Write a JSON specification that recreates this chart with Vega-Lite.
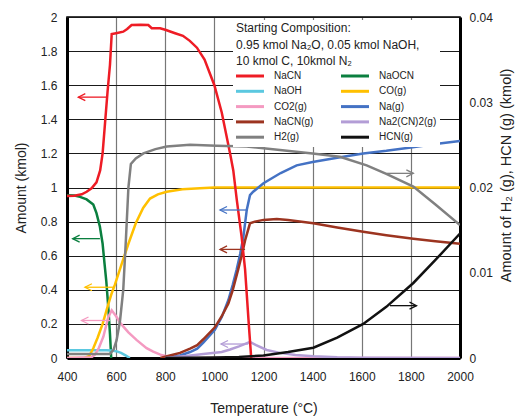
{
  "$schema": "https://vega.github.io/schema/vega-lite/v6.json",
  "width": 393,
  "height": 341,
  "autosize": "none",
  "padding": {"left": 67, "top": 17, "right": 61, "bottom": 59},
  "background": "white",
  "config": {
    "font": "Liberation Sans",
    "view": {"stroke": "black", "strokeWidth": 1.5},
    "axis": {"labelFontSize": 12, "titleFontSize": 14, "titleFontWeight": "normal", "labelColor": "#222", "titleColor": "#222", "domainColor": "black", "domainWidth": 3, "ticks": false}
  },
  "datasets": {
    "left": [
      {"s": "NaOCN", "T": 400, "v": 0.955}, {"s": "NaOCN", "T": 430, "v": 0.953}, {"s": "NaOCN", "T": 453, "v": 0.945}, {"s": "NaOCN", "T": 480, "v": 0.93}, {"s": "NaOCN", "T": 507, "v": 0.9}, {"s": "NaOCN", "T": 520, "v": 0.85}, {"s": "NaOCN", "T": 534, "v": 0.77}, {"s": "NaOCN", "T": 545, "v": 0.67}, {"s": "NaOCN", "T": 553, "v": 0.55}, {"s": "NaOCN", "T": 560, "v": 0.45}, {"s": "NaOCN", "T": 568, "v": 0.3}, {"s": "NaOCN", "T": 575, "v": 0.14}, {"s": "NaOCN", "T": 580, "v": 0},
      {"s": "NaOH", "T": 400, "v": 0.045}, {"s": "NaOH", "T": 560, "v": 0.045}, {"s": "NaOH", "T": 580, "v": 0.044}, {"s": "NaOH", "T": 600, "v": 0.04}, {"s": "NaOH", "T": 620, "v": 0.03}, {"s": "NaOH", "T": 640, "v": 0.014}, {"s": "NaOH", "T": 656, "v": 0},
      {"s": "CO(g)", "T": 400, "v": 0}, {"s": "CO(g)", "T": 470, "v": 0}, {"s": "CO(g)", "T": 490, "v": 0.01}, {"s": "CO(g)", "T": 507, "v": 0.057}, {"s": "CO(g)", "T": 525, "v": 0.12}, {"s": "CO(g)", "T": 545, "v": 0.2}, {"s": "CO(g)", "T": 565, "v": 0.3}, {"s": "CO(g)", "T": 582, "v": 0.38}, {"s": "CO(g)", "T": 595, "v": 0.43}, {"s": "CO(g)", "T": 620, "v": 0.54}, {"s": "CO(g)", "T": 650, "v": 0.67}, {"s": "CO(g)", "T": 680, "v": 0.79}, {"s": "CO(g)", "T": 710, "v": 0.88}, {"s": "CO(g)", "T": 738, "v": 0.935}, {"s": "CO(g)", "T": 770, "v": 0.96}, {"s": "CO(g)", "T": 806, "v": 0.975}, {"s": "CO(g)", "T": 870, "v": 0.99}, {"s": "CO(g)", "T": 941, "v": 0.995}, {"s": "CO(g)", "T": 1000, "v": 1.0}, {"s": "CO(g)", "T": 2000, "v": 1.0},
      {"s": "CO2(g)", "T": 400, "v": 0}, {"s": "CO2(g)", "T": 500, "v": 0.005}, {"s": "CO2(g)", "T": 514, "v": 0.02}, {"s": "CO2(g)", "T": 530, "v": 0.06}, {"s": "CO2(g)", "T": 548, "v": 0.125}, {"s": "CO2(g)", "T": 568, "v": 0.24}, {"s": "CO2(g)", "T": 582, "v": 0.28}, {"s": "CO2(g)", "T": 600, "v": 0.245}, {"s": "CO2(g)", "T": 620, "v": 0.2}, {"s": "CO2(g)", "T": 650, "v": 0.15}, {"s": "CO2(g)", "T": 684, "v": 0.105}, {"s": "CO2(g)", "T": 724, "v": 0.058}, {"s": "CO2(g)", "T": 751, "v": 0.037}, {"s": "CO2(g)", "T": 780, "v": 0.02}, {"s": "CO2(g)", "T": 806, "v": 0.01}, {"s": "CO2(g)", "T": 850, "v": 0.003}, {"s": "CO2(g)", "T": 900, "v": 0}, {"s": "CO2(g)", "T": 2000, "v": 0},
      {"s": "Na(g)", "T": 800, "v": 0}, {"s": "Na(g)", "T": 860, "v": 0.015}, {"s": "Na(g)", "T": 901, "v": 0.035}, {"s": "Na(g)", "T": 930, "v": 0.055}, {"s": "Na(g)", "T": 955, "v": 0.09}, {"s": "Na(g)", "T": 1002, "v": 0.165}, {"s": "Na(g)", "T": 1030, "v": 0.24}, {"s": "Na(g)", "T": 1057, "v": 0.34}, {"s": "Na(g)", "T": 1075, "v": 0.43}, {"s": "Na(g)", "T": 1091, "v": 0.52}, {"s": "Na(g)", "T": 1105, "v": 0.61}, {"s": "Na(g)", "T": 1118, "v": 0.71}, {"s": "Na(g)", "T": 1132, "v": 0.87}, {"s": "Na(g)", "T": 1145, "v": 0.955}, {"s": "Na(g)", "T": 1158, "v": 0.975}, {"s": "Na(g)", "T": 1200, "v": 1.025}, {"s": "Na(g)", "T": 1270, "v": 1.085}, {"s": "Na(g)", "T": 1335, "v": 1.13}, {"s": "Na(g)", "T": 1400, "v": 1.15}, {"s": "Na(g)", "T": 1500, "v": 1.175}, {"s": "Na(g)", "T": 1606, "v": 1.2}, {"s": "Na(g)", "T": 1700, "v": 1.215}, {"s": "Na(g)", "T": 1800, "v": 1.235}, {"s": "Na(g)", "T": 1900, "v": 1.255}, {"s": "Na(g)", "T": 2000, "v": 1.273},
      {"s": "NaCN(g)", "T": 780, "v": 0}, {"s": "NaCN(g)", "T": 819, "v": 0.015}, {"s": "NaCN(g)", "T": 860, "v": 0.03}, {"s": "NaCN(g)", "T": 901, "v": 0.055}, {"s": "NaCN(g)", "T": 930, "v": 0.075}, {"s": "NaCN(g)", "T": 955, "v": 0.11}, {"s": "NaCN(g)", "T": 1002, "v": 0.18}, {"s": "NaCN(g)", "T": 1030, "v": 0.245}, {"s": "NaCN(g)", "T": 1057, "v": 0.32}, {"s": "NaCN(g)", "T": 1075, "v": 0.4}, {"s": "NaCN(g)", "T": 1097, "v": 0.52}, {"s": "NaCN(g)", "T": 1111, "v": 0.6}, {"s": "NaCN(g)", "T": 1125, "v": 0.69}, {"s": "NaCN(g)", "T": 1145, "v": 0.79}, {"s": "NaCN(g)", "T": 1165, "v": 0.8}, {"s": "NaCN(g)", "T": 1200, "v": 0.81}, {"s": "NaCN(g)", "T": 1254, "v": 0.815}, {"s": "NaCN(g)", "T": 1300, "v": 0.81}, {"s": "NaCN(g)", "T": 1403, "v": 0.79}, {"s": "NaCN(g)", "T": 1500, "v": 0.765}, {"s": "NaCN(g)", "T": 1606, "v": 0.74}, {"s": "NaCN(g)", "T": 1700, "v": 0.72}, {"s": "NaCN(g)", "T": 1810, "v": 0.7}, {"s": "NaCN(g)", "T": 1900, "v": 0.685}, {"s": "NaCN(g)", "T": 2000, "v": 0.67},
      {"s": "Na2(CN)2(g)", "T": 800, "v": 0}, {"s": "Na2(CN)2(g)", "T": 887, "v": 0.012}, {"s": "Na2(CN)2(g)", "T": 955, "v": 0.024}, {"s": "Na2(CN)2(g)", "T": 1030, "v": 0.035}, {"s": "Na2(CN)2(g)", "T": 1064, "v": 0.05}, {"s": "Na2(CN)2(g)", "T": 1100, "v": 0.068}, {"s": "Na2(CN)2(g)", "T": 1138, "v": 0.09}, {"s": "Na2(CN)2(g)", "T": 1145, "v": 0.094}, {"s": "Na2(CN)2(g)", "T": 1170, "v": 0.075}, {"s": "Na2(CN)2(g)", "T": 1213, "v": 0.047}, {"s": "Na2(CN)2(g)", "T": 1267, "v": 0.03}, {"s": "Na2(CN)2(g)", "T": 1330, "v": 0.018}, {"s": "Na2(CN)2(g)", "T": 1403, "v": 0.01}, {"s": "Na2(CN)2(g)", "T": 1500, "v": 0.004}, {"s": "Na2(CN)2(g)", "T": 1600, "v": 0.002}, {"s": "Na2(CN)2(g)", "T": 2000, "v": 0},
      {"s": "NaCN", "T": 400, "v": 0.95}, {"s": "NaCN", "T": 430, "v": 0.952}, {"s": "NaCN", "T": 460, "v": 0.96}, {"s": "NaCN", "T": 480, "v": 0.975}, {"s": "NaCN", "T": 500, "v": 0.995}, {"s": "NaCN", "T": 520, "v": 1.03}, {"s": "NaCN", "T": 535, "v": 1.1}, {"s": "NaCN", "T": 545, "v": 1.2}, {"s": "NaCN", "T": 555, "v": 1.38}, {"s": "NaCN", "T": 565, "v": 1.56}, {"s": "NaCN", "T": 575, "v": 1.72}, {"s": "NaCN", "T": 582, "v": 1.9}, {"s": "NaCN", "T": 600, "v": 1.905}, {"s": "NaCN", "T": 629, "v": 1.914}, {"s": "NaCN", "T": 645, "v": 1.93}, {"s": "NaCN", "T": 663, "v": 1.953}, {"s": "NaCN", "T": 700, "v": 1.955}, {"s": "NaCN", "T": 731, "v": 1.953}, {"s": "NaCN", "T": 745, "v": 1.934}, {"s": "NaCN", "T": 779, "v": 1.934}, {"s": "NaCN", "T": 800, "v": 1.925}, {"s": "NaCN", "T": 840, "v": 1.905}, {"s": "NaCN", "T": 872, "v": 1.89}, {"s": "NaCN", "T": 900, "v": 1.86}, {"s": "NaCN", "T": 929, "v": 1.82}, {"s": "NaCN", "T": 960, "v": 1.75}, {"s": "NaCN", "T": 1000, "v": 1.6}, {"s": "NaCN", "T": 1030, "v": 1.44}, {"s": "NaCN", "T": 1064, "v": 1.2}, {"s": "NaCN", "T": 1077, "v": 1.1}, {"s": "NaCN", "T": 1091, "v": 0.93}, {"s": "NaCN", "T": 1111, "v": 0.71}, {"s": "NaCN", "T": 1125, "v": 0.52}, {"s": "NaCN", "T": 1140, "v": 0.2}, {"s": "NaCN", "T": 1150, "v": 0}
    ],
    "right": [
      {"s": "H2(g)", "T": 400, "v": 0.00046}, {"s": "H2(g)", "T": 575, "v": 0.00046}, {"s": "H2(g)", "T": 590, "v": 0.001}, {"s": "H2(g)", "T": 602, "v": 0.0021}, {"s": "H2(g)", "T": 616, "v": 0.0044}, {"s": "H2(g)", "T": 629, "v": 0.008}, {"s": "H2(g)", "T": 640, "v": 0.014}, {"s": "H2(g)", "T": 650, "v": 0.02}, {"s": "H2(g)", "T": 660, "v": 0.02276}, {"s": "H2(g)", "T": 680, "v": 0.0234}, {"s": "H2(g)", "T": 711, "v": 0.024}, {"s": "H2(g)", "T": 760, "v": 0.0245}, {"s": "H2(g)", "T": 806, "v": 0.0248}, {"s": "H2(g)", "T": 901, "v": 0.025}, {"s": "H2(g)", "T": 1009, "v": 0.0249}, {"s": "H2(g)", "T": 1131, "v": 0.0248}, {"s": "H2(g)", "T": 1267, "v": 0.0244}, {"s": "H2(g)", "T": 1400, "v": 0.024}, {"s": "H2(g)", "T": 1511, "v": 0.0236}, {"s": "H2(g)", "T": 1620, "v": 0.0226}, {"s": "H2(g)", "T": 1700, "v": 0.0216}, {"s": "H2(g)", "T": 1810, "v": 0.0201}, {"s": "H2(g)", "T": 1900, "v": 0.018}, {"s": "H2(g)", "T": 2000, "v": 0.0156},
      {"s": "HCN(g)", "T": 800, "v": 0}, {"s": "HCN(g)", "T": 900, "v": 0.00002}, {"s": "HCN(g)", "T": 1000, "v": 0.00006}, {"s": "HCN(g)", "T": 1100, "v": 0.00013}, {"s": "HCN(g)", "T": 1200, "v": 0.0003}, {"s": "HCN(g)", "T": 1300, "v": 0.0007}, {"s": "HCN(g)", "T": 1403, "v": 0.0012}, {"s": "HCN(g)", "T": 1500, "v": 0.0024}, {"s": "HCN(g)", "T": 1606, "v": 0.004}, {"s": "HCN(g)", "T": 1700, "v": 0.006}, {"s": "HCN(g)", "T": 1810, "v": 0.0088}, {"s": "HCN(g)", "T": 1900, "v": 0.0115}, {"s": "HCN(g)", "T": 2000, "v": 0.0146}
    ],
    "arrows": [
      {"s": "NaCN", "T1": 561, "T2": 446, "v": 1.53, "dir": "left"},
      {"s": "NaOCN", "T1": 534, "T2": 423, "v": 0.7, "dir": "left"},
      {"s": "CO(g)", "T1": 589, "T2": 473, "v": 0.415, "dir": "left"},
      {"s": "CO2(g)", "T1": 575, "T2": 459, "v": 0.22, "dir": "left"},
      {"s": "H2(g)", "T1": 1702, "T2": 1810, "v": 1.083, "dir": "right"},
      {"s": "Na(g)", "T1": 1132, "T2": 1023, "v": 0.868, "dir": "left"},
      {"s": "NaCN(g)", "T1": 1125, "T2": 1023, "v": 0.637, "dir": "left"},
      {"s": "Na2(CN)2(g)", "T1": 1138, "T2": 1027, "v": 0.082, "dir": "left"},
      {"s": "HCN(g)", "T1": 1715, "T2": 1823, "v": 0.307, "dir": "right"}
    ]
  },
  "layer": [
    {
      "data": {"name": "left"},
      "mark": {"type": "line", "strokeWidth": 2.5, "clip": true},
      "encoding": {
        "x": {"field": "T", "type": "quantitative", "scale": {"domain": [400, 2000], "nice": false},
          "axis": {"title": "Temperature (°C)", "values": [400, 600, 800, 1000, 1200, 1400, 1600, 1800, 2000], "format": "d", "grid": true, "gridColor": "#777", "gridWidth": 1.2, "labelPadding": 13, "titlePadding": 19, "labelFlush": false}},
        "y": {"field": "v", "type": "quantitative", "scale": {"domain": [0, 2], "nice": false},
          "axis": {"orient": "left", "title": "Amount (kmol)", "values": [0, 0.2, 0.4, 0.6, 0.8, 1, 1.2, 1.4, 1.6, 1.8, 2], "format": "~g", "grid": true, "gridColor": "#1a1a1a", "gridWidth": 1.2, "labelPadding": 10, "titlePadding": 12, "labelFlush": false}},
        "color": {"field": "s", "type": "nominal",
          "scale": {"domain": ["NaCN", "NaOCN", "NaOH", "CO(g)", "CO2(g)", "Na(g)", "NaCN(g)", "Na2(CN)2(g)", "H2(g)", "HCN(g)"],
            "range": ["#EE1C25", "#0A7F3F", "#5BC8E0", "#FFC000", "#F49AC1", "#4472C4", "#9C3420", "#B39DD6", "#808080", "#111111"]},
          "legend": {"orient": "none", "legendX": 166, "legendY": 3, "direction": "horizontal", "columns": 2, "gridAlign": "each", "columnPadding": 21, "rowPadding": 3.3,
            "title": ["Starting Composition:", "0.95 kmol Na₂O, 0.05 kmol NaOH,", "10 kmol C, 10kmol N₂"],
            "titleFontSize": 12, "titleFontWeight": "normal", "titleColor": "#222", "titleLineHeight": 16.5, "titlePadding": 3, "titleLimit": 400,
            "labelFontSize": 10, "labelColor": "#222", "labelOffset": 19, "symbolOffset": 9,
            "symbolType": "M-4,0H4", "symbolSize": 49, "symbolStrokeWidth": 3,
            "fillColor": "white", "padding": 3}}
      }
    },
    {
      "data": {"name": "right"},
      "mark": {"type": "line", "strokeWidth": 2.5, "clip": true},
      "encoding": {
        "x": {"field": "T", "type": "quantitative"},
        "y": {"field": "v", "type": "quantitative", "scale": {"domain": [0, 0.04], "nice": false},
          "axis": {"orient": "right", "title": "Amount of H₂ (g), HCN (g) (kmol)", "values": [0, 0.01, 0.02, 0.03, 0.04], "format": "~g", "grid": false, "labelPadding": 9, "titlePadding": 21, "titleAngle": 270, "titleFontSize": 14.5, "titleY": 158, "labelFlush": false}},
        "color": {"field": "s", "type": "nominal"}
      }
    },
    {
      "data": {"name": "arrows"},
      "mark": {"type": "rule", "strokeWidth": 1.3},
      "encoding": {
        "x": {"field": "T1", "type": "quantitative"},
        "x2": {"field": "T2"},
        "y": {"field": "v", "type": "quantitative", "scale": {"domain": [0, 2], "nice": false}, "axis": null},
        "color": {"field": "s", "type": "nominal", "legend": null}
      }
    },
    {
      "data": {"name": "arrows"},
      "mark": {"type": "point", "filled": false, "strokeWidth": 1.3, "opacity": 1, "size": 49},
      "encoding": {
        "x": {"field": "T2", "type": "quantitative"},
        "y": {"field": "v", "type": "quantitative", "scale": {"domain": [0, 2], "nice": false}, "axis": null},
        "shape": {"field": "dir", "type": "nominal", "scale": {"domain": ["left", "right"], "range": ["M2,-1L0,0L2,1", "M-2,-1L0,0L-2,1"]}, "legend": null},
        "color": {"field": "s", "type": "nominal", "legend": null}
      }
    }
  ],
  "resolve": {"scale": {"y": "independent"}}
}
